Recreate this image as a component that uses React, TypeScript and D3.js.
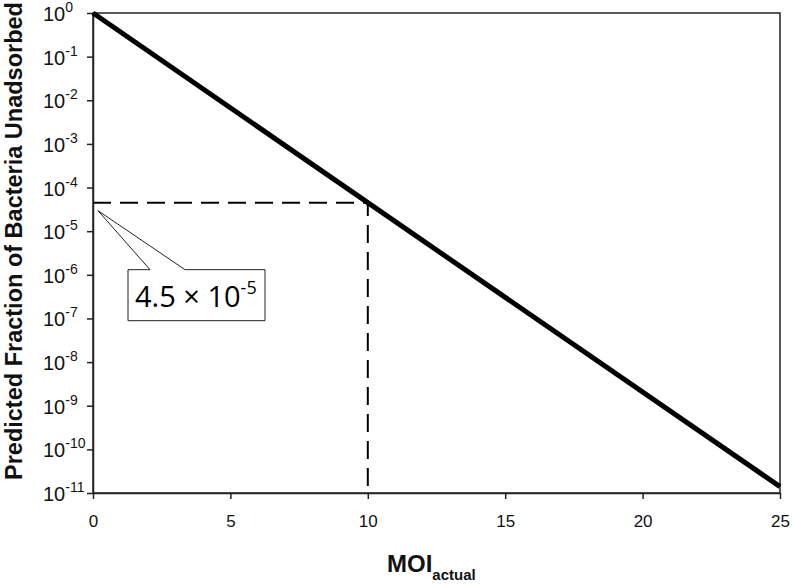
import { useRef, useEffect } from 'react';
import * as d3 from 'd3';

// values
const moi = [0, 10, 25];
const fraction = [1, 4.5e-5, 1.4e-11];
const xTicks = [0, 5, 10, 15, 20, 25];
const yExponents = [0, -1, -2, -3, -4, -5, -6, -7, -8, -9, -10, -11];
const markerMoi = 10;
const markerValue = 4.5e-5;

const width = 792;
const height = 585;
const font = '"Liberation Sans", Arial, sans-serif';

export default function App() {
  const svgRef = useRef<SVGSVGElement>(null);

  useEffect(() => {
    document.body.style.margin = '0';
    const svg = d3.select(svgRef.current);
    svg.selectAll('*').remove();
    const margin = { top: 13, right: 12, bottom: 92, left: 93 };

    const x = d3
      .scaleLinear()
      .domain([0, 25])
      .range([margin.left, width - margin.right]);
    const y = d3
      .scaleLog()
      .domain([1e-11, 1])
      .range([height - margin.bottom, margin.top]);

    const data = moi.map((m, i) => ({ m, f: fraction[i] }));

    // frame
    svg
      .append('rect')
      .attr('x', x(0))
      .attr('y', y(1))
      .attr('width', x(25) - x(0))
      .attr('height', y(1e-11) - y(1))
      .attr('fill', 'none')
      .attr('stroke', '#222')
      .attr('stroke-width', 1.5);

    // x axis
    const xAxis = svg
      .append('g')
      .attr('transform', `translate(0,${y(1e-11)})`)
      .call(d3.axisBottom(x).tickValues(xTicks).tickSize(6).tickSizeOuter(0));
    xAxis.select('.domain').attr('stroke', '#222').attr('stroke-width', 1.5);
    xAxis.selectAll('.tick line').attr('stroke', '#222').attr('stroke-width', 1.5);
    xAxis
      .selectAll('.tick text')
      .attr('font-family', font)
      .attr('font-size', 17)
      .attr('fill', '#111')
      .attr('y', 22);

    // y axis
    const yAxis = svg
      .append('g')
      .attr('transform', `translate(${x(0)},0)`)
      .call(
        d3
          .axisLeft(y)
          .tickValues(yExponents.map((e) => Math.pow(10, e)))
          .tickSize(6)
          .tickSizeOuter(0)
          .tickFormat(() => '')
      );
    yAxis.select('.domain').attr('stroke', '#222').attr('stroke-width', 1.5);
    yAxis.selectAll('.tick line').attr('stroke', '#222').attr('stroke-width', 1.5);

    const yLabels = svg
      .append('g')
      .selectAll('text')
      .data(yExponents)
      .join('text')
      .attr('x', x(0) - 50)
      .attr('y', (e) => y(Math.pow(10, e)) + 8)
      .attr('text-anchor', 'start')
      .attr('font-family', font)
      .attr('fill', '#111')
      .attr('font-size', 20);
    yLabels.append('tspan').text('10');
    yLabels
      .append('tspan')
      .attr('font-size', 14)
      .attr('dy', -9)
      .text((e) => `${e}`);

    // guide lines to marker
    svg
      .append('path')
      .attr('d', `M${x(0)},${y(markerValue)}H${x(markerMoi)}V${y(1e-11)}`)
      .attr('fill', 'none')
      .attr('stroke', '#000')
      .attr('stroke-width', 2)
      .attr('stroke-dasharray', '18,9');

    // main line
    const line = d3
      .line<{ m: number; f: number }>()
      .x((d) => x(d.m))
      .y((d) => y(d.f));
    svg
      .append('path')
      .datum(data)
      .attr('fill', 'none')
      .attr('stroke', '#000')
      .attr('stroke-width', 5)
      .attr('d', line);

    // callout
    const tipX = x(0) + 5;
    const tipY = y(markerValue) + 8;
    const bx = tipX + 30;
    const by = tipY + 59;
    const bw = 137;
    const bh = 51;
    svg
      .append('path')
      .attr(
        'd',
        `M${bx},${by}H${bx + 22}L${tipX},${tipY}L${bx + 57},${by}H${bx + bw}V${by + bh}H${bx}Z`
      )
      .attr('fill', '#fff')
      .attr('stroke', '#222')
      .attr('stroke-width', 1);
    const callText = svg
      .append('text')
      .attr('x', bx + 7)
      .attr('y', by + 37)
      .attr('font-family', '"Open Sans", "Liberation Sans", sans-serif')
      .attr('font-size', 29)
      .attr('fill', '#000');
    callText.append('tspan').text('4.5 × 10');
    callText.append('tspan').attr('font-size', 18).attr('dy', -13).text('-5');

    // axis titles
    svg
      .append('text')
      .attr('transform', `translate(22,${(y(1) + y(1e-11)) / 2 - 12}) rotate(-90)`)
      .attr('text-anchor', 'middle')
      .attr('font-family', font)
      .attr('font-weight', 'bold')
      .attr('font-size', 23.5)
      .attr('fill', '#111')
      .text('Predicted Fraction of Bacteria Unadsorbed');

    const xTitle = svg
      .append('text')
      .attr('x', 387)
      .attr('y', 572)
      .attr('font-family', font)
      .attr('font-weight', 'bold')
      .attr('font-size', 24)
      .attr('fill', '#111');
    xTitle.append('tspan').text('MOI');
    xTitle.append('tspan').attr('font-size', 15).attr('dy', 8).text('actual');
  }, []);

  return <svg ref={svgRef} width={width} height={height} style={{ display: 'block', background: '#fff' }} />;
}
